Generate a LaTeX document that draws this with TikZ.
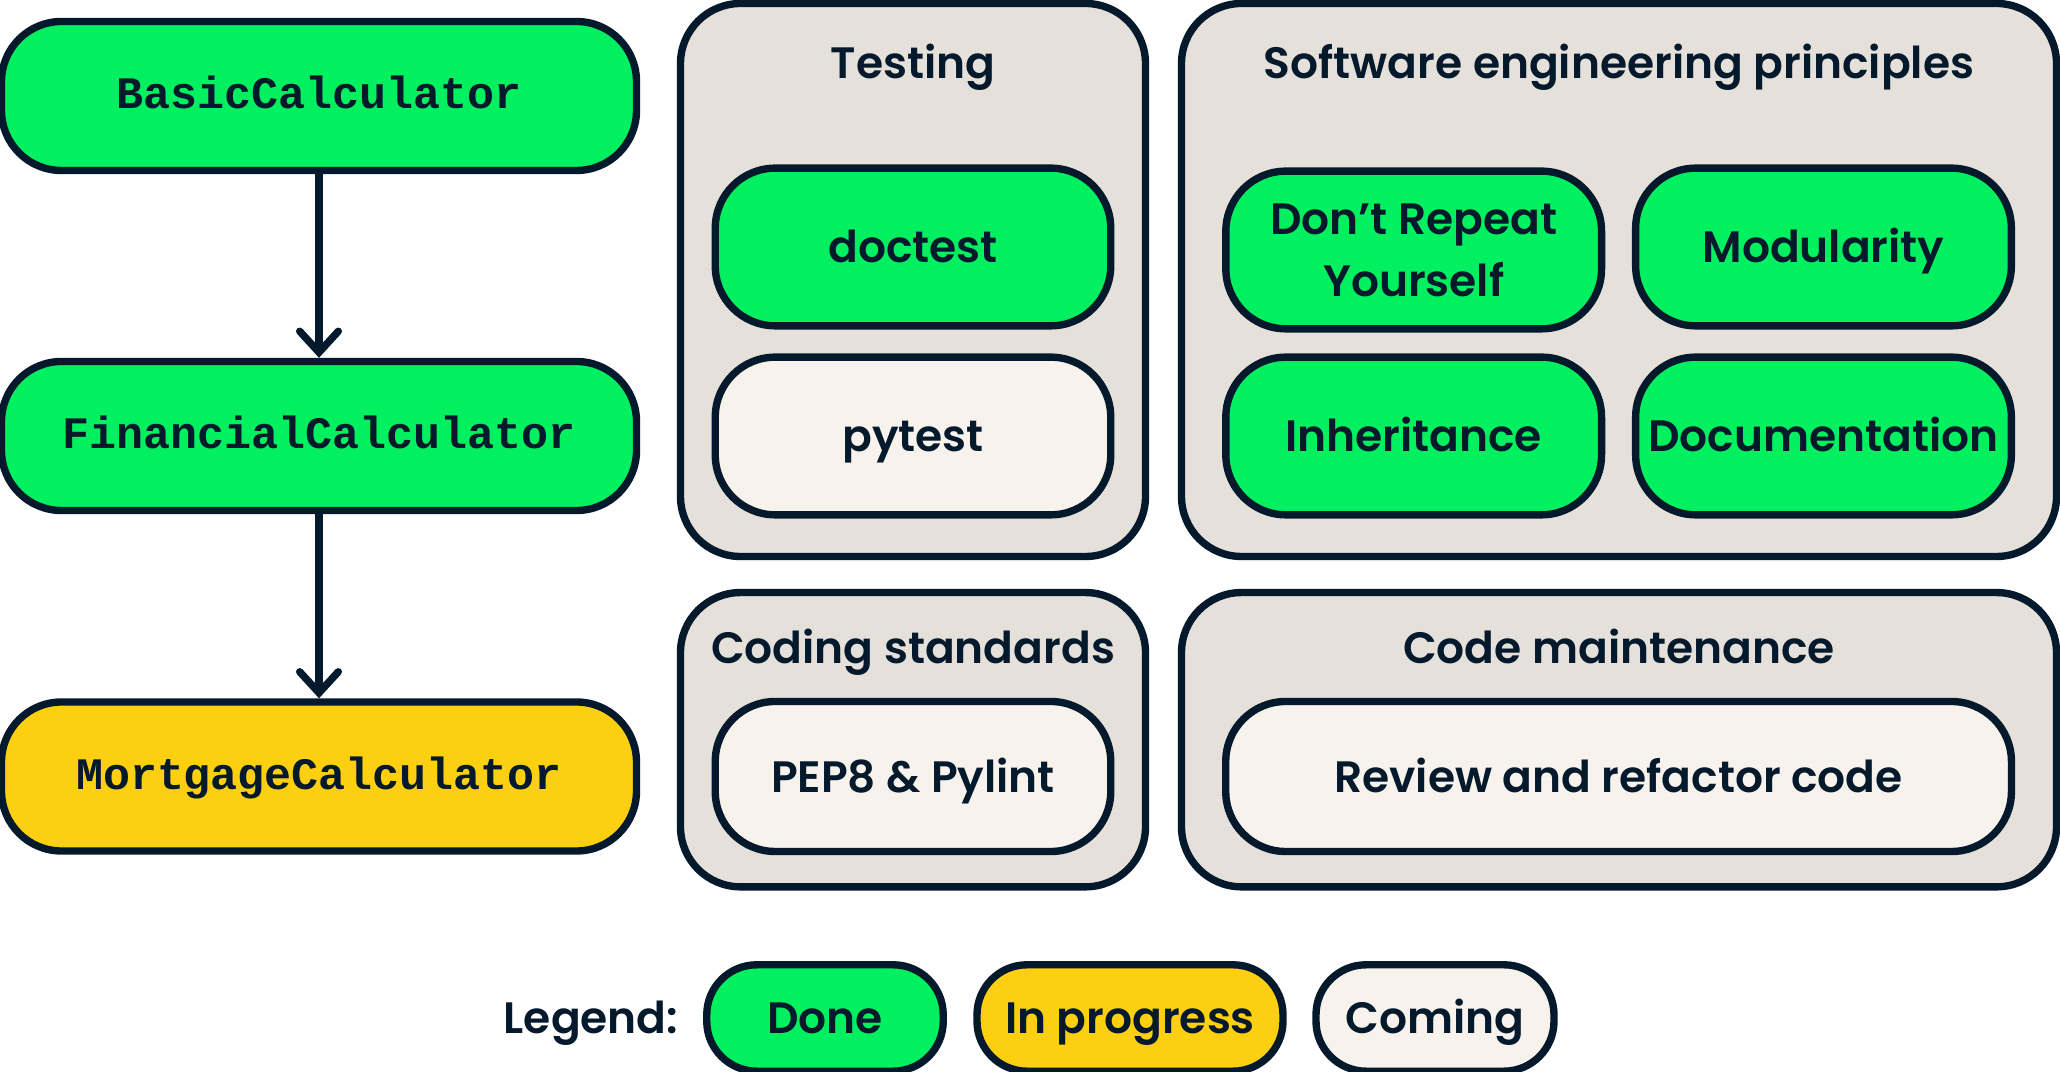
\documentclass[tikz,border=0pt]{standalone}
\usepackage{fontspec}
\setmainfont{Poppins}[BoldFont={* SemiBold}]
\setmonofont{Liberation Mono}
\usetikzlibrary{arrows.meta}
\definecolor{ink}{HTML}{04192C}
\definecolor{donegreen}{HTML}{00F060}
\definecolor{progyellow}{HTML}{FCCF10}
\definecolor{comingcream}{HTML}{F7F2EB}
\definecolor{groupgray}{HTML}{E5E0D9}
\begin{document}
\begin{tikzpicture}[
    box/.style={draw=ink, line width=2.1pt, rounded corners=0.6cm, align=center,
      text=ink, inner sep=0pt, font=\fontsize{12.5}{17.6}\selectfont\bfseries},
    oneline/.style={text height=0.9em, text depth=0pt},
    done/.style={box, fill=donegreen},
    prog/.style={box, fill=progyellow},
    coming/.style={box, fill=comingcream},
    group/.style={box, fill=groupgray},
    cls/.style={text height=0.72em, text depth=0pt, minimum width=6.35cm, minimum height=1.49cm,
      font=\fontsize{12.8}{14}\selectfont\ttfamily\bfseries},
    item/.style={oneline, minimum width=3.955cm, minimum height=1.577cm},
    sitem/.style={minimum width=3.757cm, minimum height=1.577cm},
    key/.style={oneline, minimum height=1.064cm, rounded corners=0.5cm},
    title/.style={oneline, text=ink, font=\fontsize{12.5}{15}\selectfont\bfseries},
    link/.style={draw=ink, line width=2.1pt, line cap=round,
      -{Straight Barb[length=6pt, width=11pt, line cap=round]}}
  ]
  \useasboundingbox (0,0) rectangle (20.6,-10.72);

  % class chain
  \node[done, cls] (basic) at (3.19,-0.96) {BasicCalculator};
  \node[done, cls] (fin) at (3.19,-4.36) {FinancialCalculator};
  \node[prog, cls] (mort) at (3.19,-7.765) {MortgageCalculator};
  \draw[link] (basic) -- (fin);
  \draw[link] (fin) -- (mort);

  % groups
  \node[group, minimum width=4.65cm, minimum height=5.53cm] (testing) at (9.13,-2.80) {};
  \node[group, minimum width=8.75cm, minimum height=5.53cm] (seng) at (16.19,-2.80) {};
  \node[group, minimum width=4.65cm, minimum height=2.943cm] (coding) at (9.13,-7.397) {};
  \node[group, minimum width=8.75cm, minimum height=2.943cm] (maint) at (16.19,-7.397) {};
  \node[title] (testingt) at (9.13,-0.63) {Testing};
  \node[title] (sengt) at (16.19,-0.63) {Software engineering principles};
  \node[title] (codingt) at (9.13,-6.477) {Coding standards};
  \node[title] (maintt) at (16.19,-6.477) {Code maintenance};

  % topics
  \node[done, item] (doctest) at (9.13,-2.47) {doctest};
  \node[coming, item] (pytest) at (9.13,-4.36) {pytest};
  \node[done, sitem] (dry) at (14.137,-2.50) {Don’t Repeat\\Yourself};
  \node[done, sitem, oneline] (modul) at (18.235,-2.47) {Modularity};
  \node[done, sitem, oneline] (inher) at (14.137,-4.36) {Inheritance};
  \node[done, sitem, oneline] (docs) at (18.235,-4.36) {Documentation};
  \node[coming, item, minimum height=1.50cm] (pep) at (9.13,-7.765) {PEP8 \& Pylint};
  \node[coming, oneline, minimum width=7.857cm, minimum height=1.50cm] (review) at (16.186,-7.765) {Review and refactor code};

  % legend
  \node[title] (legend) at (5.91,-10.18) {Legend:};
  \node[done, key, minimum width=2.365cm] (kdone) at (8.25,-10.18) {Done};
  \node[prog, key, minimum width=3.06cm] (kprog) at (11.30,-10.18) {In progress};
  \node[coming, key, minimum width=2.38cm] (kcoming) at (14.35,-10.18) {Coming};
\end{tikzpicture}
\end{document}
